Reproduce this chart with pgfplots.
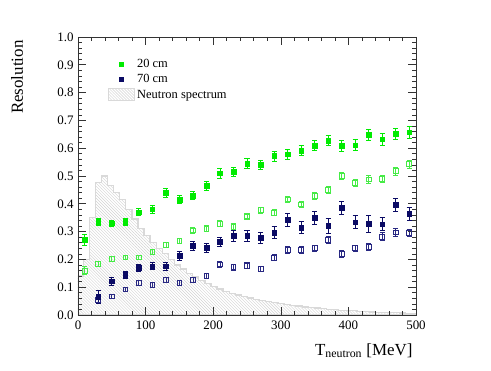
\documentclass[border=0pt]{standalone}
\usepackage{pgfplots}
\pgfplotsset{compat=1.18}
\usetikzlibrary{patterns}
\usepackage{fontspec}
\setmainfont{Liberation Serif}

\definecolor{rgreen}{RGB}{0,235,0}
\definecolor{rgreenlt}{RGB}{70,235,70}
\definecolor{rnavy}{RGB}{10,10,100}
\definecolor{rnavylt}{RGB}{40,40,130}

% x  y  err
\pgfplotstableread{
x y e
10 0.270 0.020
30 0.335 0.012
50 0.330 0.012
70 0.335 0.012
90 0.370 0.012
110 0.380 0.013
130 0.440 0.015
150 0.415 0.015
170 0.430 0.015
190 0.465 0.015
210 0.510 0.017
230 0.515 0.017
250 0.545 0.017
270 0.540 0.017
290 0.572 0.018
310 0.579 0.018
330 0.591 0.018
350 0.609 0.018
370 0.627 0.018
390 0.608 0.020
410 0.611 0.020
430 0.648 0.020
450 0.632 0.020
470 0.652 0.020
490 0.657 0.020
}\twentyfull

\pgfplotstableread{
x y e
10 0.160 0.015
30 0.184 0.008
50 0.202 0.008
70 0.207 0.008
90 0.207 0.008
110 0.226 0.009
130 0.251 0.009
150 0.267 0.009
170 0.304 0.010
190 0.311 0.010
210 0.329 0.010
230 0.318 0.010
250 0.355 0.011
270 0.377 0.011
290 0.368 0.011
310 0.416 0.012
330 0.398 0.012
350 0.428 0.012
370 0.450 0.013
390 0.501 0.013
410 0.475 0.013
430 0.488 0.013
450 0.490 0.013
470 0.517 0.014
490 0.543 0.014
}\twentyopen

\pgfplotstableread{
x y e
30 0.065 0.022
50 0.121 0.013
70 0.145 0.013
90 0.170 0.013
110 0.176 0.013
130 0.175 0.015
150 0.213 0.017
170 0.249 0.017
190 0.242 0.017
210 0.263 0.017
230 0.285 0.020
250 0.286 0.020
270 0.279 0.020
290 0.297 0.022
310 0.342 0.022
330 0.315 0.022
350 0.350 0.024
370 0.321 0.026
390 0.385 0.024
410 0.334 0.024
430 0.328 0.030
450 0.327 0.024
470 0.396 0.022
490 0.364 0.022
}\seventyfull

\pgfplotstableread{
x y e
30 0.053 0.010
50 0.067 0.007
70 0.092 0.007
90 0.115 0.008
110 0.108 0.008
130 0.127 0.008
150 0.115 0.008
170 0.127 0.008
190 0.142 0.009
210 0.182 0.010
230 0.172 0.010
250 0.178 0.010
270 0.166 0.010
290 0.206 0.011
310 0.234 0.012
330 0.234 0.012
350 0.240 0.012
370 0.270 0.013
390 0.220 0.012
410 0.240 0.012
430 0.244 0.013
450 0.282 0.014
470 0.297 0.013
490 0.295 0.013
}\seventyopen

\begin{document}
\begin{tikzpicture}
\useasboundingbox (-78bp,-56bp) rectangle (413bp,315bp);
\begin{axis}[
  at={(0,0)}, anchor=south west,
  scale only axis,
  width=338bp, height=278bp,
  xmin=0, xmax=500, ymin=0, ymax=1,
  xtick={0,100,...,500},
  ytick={0,0.1,...,1.0},
  minor x tick num=4,
  minor y tick num=4,
  tick align=inside,
  major tick length=8bp,
  minor tick length=4bp,
  tick style={black!80, line width=0.6pt},
  axis line style={black!80, line width=0.7pt},
  axis on top,
  /pgf/number format/assume math mode=true,
  yticklabel style={/pgf/number format/.cd, fixed, fixed zerofill, precision=1},
  xticklabel style={/pgf/number format/.cd, fixed},
  ticklabel style={font=\fontsize{13}{15}\selectfont},
  xticklabel shift=2bp,
  yticklabel shift=1bp,
  xlabel={T\textsubscript{neutron} [MeV]},
  ylabel={Resolution},
  label style={font=\fontsize{17}{20}\selectfont},
  xlabel style={at={(axis description cs:1,-0.144)}, anchor=base east},
  ylabel style={at={(axis description cs:-0.163,1)}, anchor=base east, rotate=0},
  legend style={draw=none, fill=none, at={(axis description cs:0.08,0.935)},
    anchor=north west, font=\fontsize{12.5}{15}\selectfont,
    row sep=1.5bp},
  legend cell align=left,
  error bars/error bar style={line width=0.7pt},
  error bars/error mark options={rotate=90, mark size=2.5bp, line width=0.7pt},
]

% neutron spectrum (arbitrary scale), step histogram
\addplot[const plot, draw=gray!30, line width=1.3pt,
  pattern=north west lines, pattern color=gray!35, forget plot] coordinates {
  (0,0.14) (7.7,0.20) (16.7,0.35) (25.7,0.476) (34.7,0.50) (43.7,0.465)
  (52.7,0.44) (61.7,0.415) (70.7,0.38) (79.7,0.345) (88.7,0.31) (97.7,0.285)
  (106.7,0.26) (115.7,0.24) (124.7,0.22) (133.7,0.20) (142.7,0.18) (151.7,0.165)
  (160.7,0.15) (169.7,0.137) (178.7,0.125) (187.7,0.113) (196.7,0.102)
  (205.7,0.093) (214.7,0.085) (223.7,0.078) (232.7,0.072) (241.7,0.066)
  (250.7,0.061) (259.7,0.056) (268.7,0.052) (277.7,0.048) (286.7,0.044)
  (295.7,0.041) (304.7,0.038) (313.7,0.035) (322.7,0.032) (331.7,0.029)
  (340.7,0.027) (349.7,0.025) (358.7,0.023) (367.7,0.021) (376.7,0.019)
  (385.7,0.017) (394.7,0.016) (403.7,0.015) (412.7,0.013) (421.7,0.012)
  (430.7,0.011) (439.7,0.010) (448.7,0.009) (457.7,0.008) (466.7,0.008)
  (475.7,0.007) (484.7,0.006) (493.7,0.006) (500,0.006)
} \closedcycle;

\addplot[only marks, mark=square, mark size=2.4bp, rgreenlt,
  mark options={line width=0.8pt}, forget plot,
  error bars/.cd, y dir=both, y explicit]
  table[x=x, y=y, y error=e] {\twentyopen};
\addplot[only marks, mark=square, mark size=2.4bp, rnavylt,
  mark options={line width=0.8pt}, forget plot,
  error bars/.cd, y dir=both, y explicit]
  table[x=x, y=y, y error=e] {\seventyopen};
\addplot[only marks, mark=square*, mark size=2.3bp, rgreen, forget plot,
  error bars/.cd, y dir=both, y explicit]
  table[x=x, y=y, y error=e] {\twentyfull};
\addplot[only marks, mark=square*, mark size=2.3bp, rnavy, forget plot,
  error bars/.cd, y dir=both, y explicit]
  table[x=x, y=y, y error=e] {\seventyfull};

\addlegendimage{legend image code/.code={
  \fill[rgreen] (11bp,-1.8bp) rectangle (14.6bp,1.8bp);}}
\addlegendentry{20 cm}
\addlegendimage{legend image code/.code={
  \fill[rnavy] (11bp,-1.8bp) rectangle (14.6bp,1.8bp);}}
\addlegendentry{70 cm}
\addlegendimage{legend image code/.code={
  \draw[draw=gray!30, line width=0.9pt, pattern=north west lines,
    pattern color=gray!35] (0bp,-6bp) rectangle (26bp,6.5bp);}}
\addlegendentry{Neutron spectrum}
\end{axis}
\end{tikzpicture}
\end{document}
